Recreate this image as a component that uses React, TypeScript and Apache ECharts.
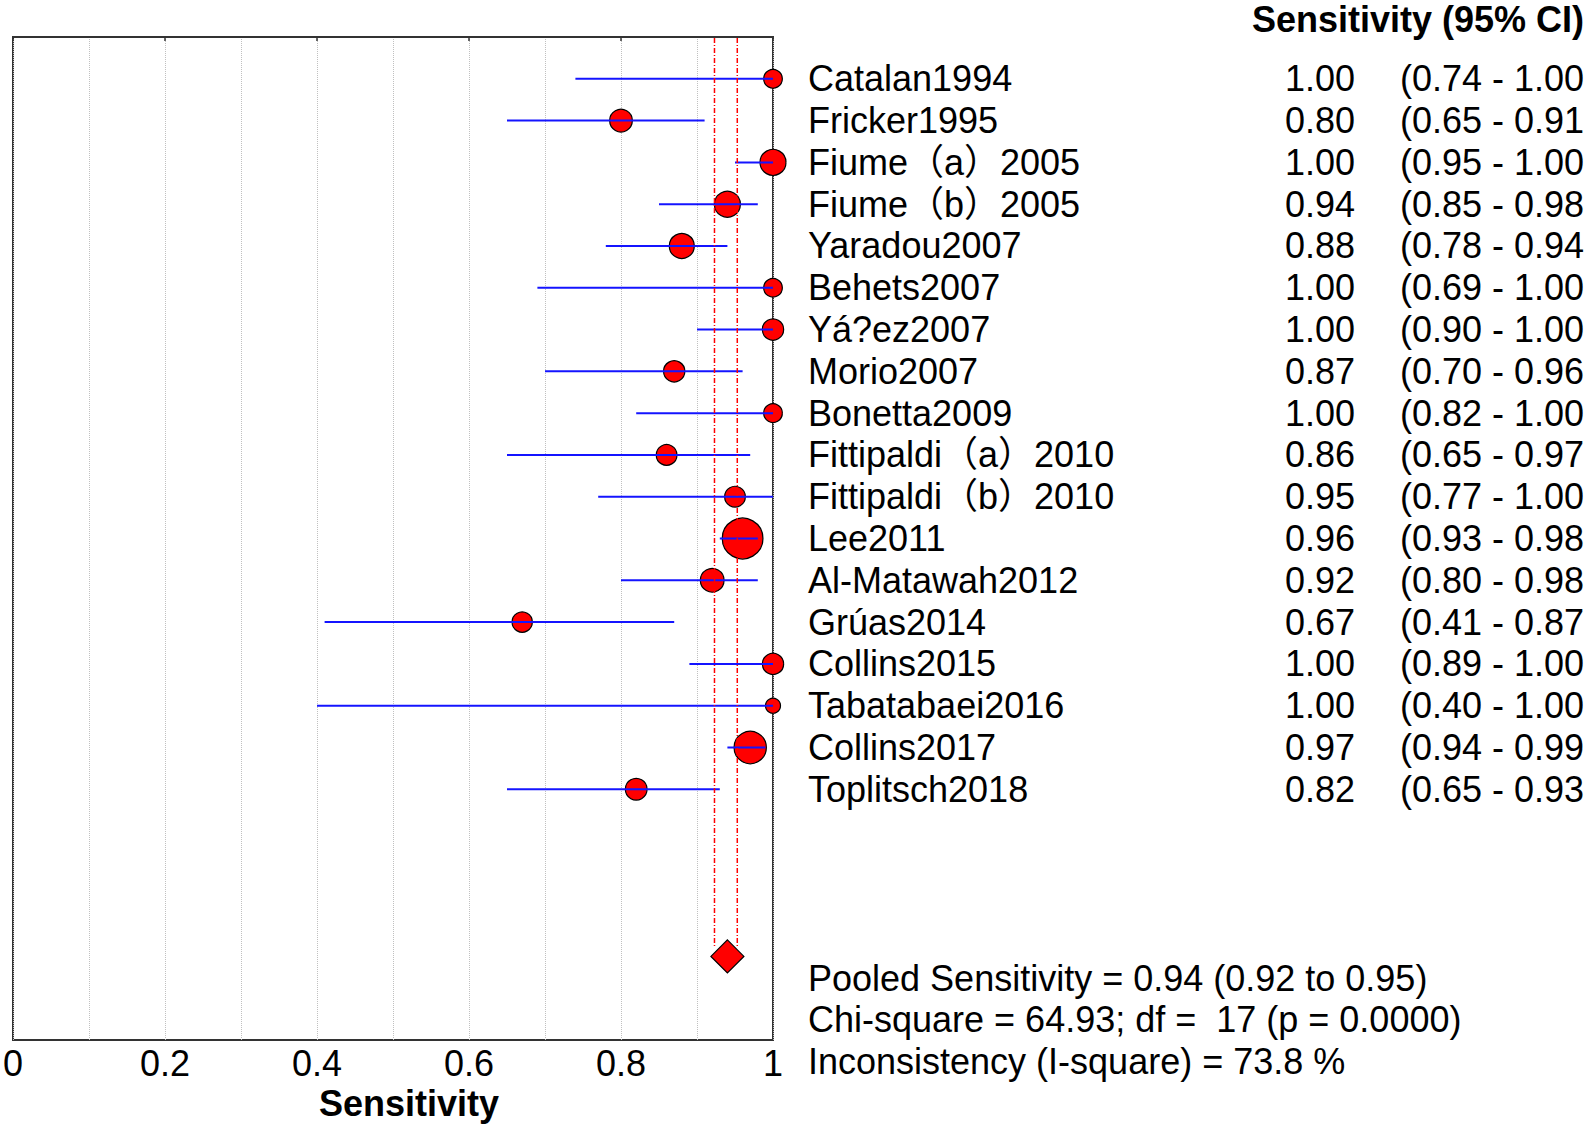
import React, { useEffect, useRef } from "react";
import * as echarts from "echarts";

const studies = [
  "Catalan1994", "Fricker1995", "Fiume（a）2005", "Fiume（b）2005", "Yaradou2007",
  "Behets2007", "Yá?ez2007", "Morio2007", "Bonetta2009", "Fittipaldi（a）2010",
  "Fittipaldi（b）2010", "Lee2011", "Al-Matawah2012", "Grúas2014", "Collins2015",
  "Tabatabaei2016", "Collins2017", "Toplitsch2018",
];
const sens = [1.0, 0.8, 1.0, 0.94, 0.88, 1.0, 1.0, 0.87, 1.0, 0.86, 0.95, 0.96, 0.92, 0.67, 1.0, 1.0, 0.97, 0.82];
const ciLow = [0.74, 0.65, 0.95, 0.85, 0.78, 0.69, 0.9, 0.7, 0.82, 0.65, 0.77, 0.93, 0.8, 0.41, 0.89, 0.4, 0.94, 0.65];
const ciHigh = [1.0, 0.91, 1.0, 0.98, 0.94, 1.0, 1.0, 0.96, 1.0, 0.97, 1.0, 0.98, 0.98, 0.87, 1.0, 1.0, 0.99, 0.93];
// marker diameters (study weights)
const weights = [18.7, 22.7, 26, 26, 25, 18.7, 21.3, 21.3, 18.7, 20.7, 20.7, 40.7, 23.7, 20.3, 21.3, 15, 32.3, 21.7];

const pooled = 0.94;
const pooledLow = 0.923;
const pooledHigh = 0.953;
const pooledRow = 22;

const xTicks = [0, 0.2, 0.4, 0.6, 0.8, 1];

const statLines = [
  "Pooled Sensitivity = 0.94 (0.92 to 0.95)",
  "Chi-square = 64.93; df =  17 (p = 0.0000)",
  "Inconsistency (I-square) = 73.8 %",
];

const FONT = "'Liberation Sans', Arial, 'Noto Sans CJK SC', sans-serif";
const FS = 36;

export default function App() {
  const ref = useRef<HTMLDivElement>(null);

  useEffect(() => {
    if (!ref.current) return;
    const chart = echarts.init(ref.current, undefined, { renderer: "svg" });

    const rows = studies.map((_, i) => i + 1);

    const option: any = {
      animation: false,
      backgroundColor: "#ffffff",
      grid: {
        left: 12,
        right: 820,
        top: 37,
        bottom: 88,
        show: true,
        borderColor: "#333333",
        borderWidth: 2,
        backgroundColor: "transparent",
      },
      xAxis: {
        type: "value",
        min: 0,
        max: 1,
        interval: 0.2,
        axisLine: { show: true, lineStyle: { color: "#333333", width: 2 } },
        axisTick: { show: true, length: 4, lineStyle: { color: "#333333", width: 1.5 } },
        axisLabel: {
          color: "#000000",
          fontSize: FS,
          fontFamily: FONT,
          margin: 5,
          formatter: (v: number) => {
            const t = xTicks.find((k) => Math.abs(k - v) < 1e-6);
            if (t === undefined) return "";
            return t === 0 ? "0" : t === 1 ? "1" : t.toFixed(1);
          },
        },
        splitLine: { show: true, lineStyle: { color: "#c0c0c0", type: "dotted", width: 1 } },
        minorTick: { show: false, splitNumber: 2 },
        minorSplitLine: { show: true, lineStyle: { color: "#c0c0c0", type: "dotted", width: 1 } },
      },
      yAxis: {
        type: "value",
        inverse: true,
        min: 0,
        max: 24,
        show: false,
        splitLine: { show: false },
      },
      graphic: [
        {
          type: "text",
          x: 1584,
          y: 19,
          style: {
            text: "Sensitivity (95% CI)",
            fontSize: FS,
            fontWeight: "bold",
            fontFamily: FONT,
            fill: "#000000",
            align: "right",
            verticalAlign: "middle",
          },
        },
        {
          type: "text",
          x: 409,
          y: 1103,
          style: {
            text: "Sensitivity",
            fontSize: FS,
            fontWeight: "bold",
            fontFamily: FONT,
            fill: "#000000",
            align: "center",
            verticalAlign: "middle",
          },
        },
        ...statLines.map((s, i) => ({
          type: "text",
          x: 808,
          y: 978 + i * 41.78,
          style: {
            text: s,
            fontSize: FS,
            fontFamily: FONT,
            fill: "#000000",
            align: "left",
            verticalAlign: "middle",
          },
        })),
      ],
      series: [
        {
          type: "scatter",
          z: 2,
          symbol: "circle",
          symbolSize: (_v: any, p: any) => weights[p.dataIndex],
          itemStyle: { color: "#ff0000", borderColor: "#000000", borderWidth: 1.2, opacity: 1 },
          data: rows.map((r, i) => [sens[i], r]),
          silent: true,
        },
        {
          type: "custom",
          z: 3,
          clip: false,
          silent: true,
          encode: { x: [0, 1], y: 2 },
          data: rows.map((r, i) => [ciLow[i], ciHigh[i], r]),
          renderItem: (_p: any, api: any) => {
            const a = api.coord([api.value(0), api.value(2)]);
            const b = api.coord([api.value(1), api.value(2)]);
            return {
              type: "line",
              shape: { x1: a[0], y1: a[1], x2: b[0], y2: b[1] },
              style: { stroke: "#1414ff", lineWidth: 2 },
            };
          },
        },
        {
          type: "custom",
          z: 4,
          clip: false,
          silent: true,
          encode: { x: 0, y: [1, 2] },
          data: [
            [pooledLow, 0, pooledRow - 0.2],
            [pooledHigh, 0, pooledRow - 0.2],
          ],
          renderItem: (_p: any, api: any) => {
            const a = api.coord([api.value(0), api.value(1)]);
            const b = api.coord([api.value(0), api.value(2)]);
            return {
              type: "line",
              shape: { x1: a[0], y1: a[1] + 1, x2: b[0], y2: b[1] },
              style: { stroke: "#ff0000", lineWidth: 1.5, lineDash: [5, 2, 1, 2] },
            };
          },
        },
        {
          type: "scatter",
          z: 5,
          symbol: "diamond",
          symbolSize: [33, 33],
          itemStyle: { color: "#ff0000", borderColor: "#000000", borderWidth: 1.2, opacity: 1 },
          data: [[pooled, pooledRow]],
          silent: true,
        },
        {
          type: "custom",
          z: 6,
          clip: false,
          silent: true,
          encode: { x: 0, y: 1 },
          data: rows.map((r, i) => [1, r, i]),
          renderItem: (_p: any, api: any) => {
            const i = api.value(2);
            const c = api.coord([api.value(0), api.value(1)]);
            const base = {
              fontSize: FS,
              fontFamily: FONT,
              fill: "#000000",
              verticalAlign: "middle",
            };
            return {
              type: "group",
              children: [
                {
                  type: "text",
                  x: c[0] + 35,
                  y: c[1],
                  style: { ...base, text: studies[i], align: "left" },
                },
                {
                  type: "text",
                  x: c[0] + 582,
                  y: c[1],
                  style: { ...base, text: sens[i].toFixed(2), align: "right" },
                },
                {
                  type: "text",
                  x: c[0] + 627,
                  y: c[1],
                  style: {
                    ...base,
                    text: "(" + ciLow[i].toFixed(2) + " - " + ciHigh[i].toFixed(2),
                    align: "left",
                  },
                },
              ],
            };
          },
        },
      ],
    };

    chart.setOption(option);
    return () => chart.dispose();
  }, []);

  return (
    <div
      ref={ref}
      style={{ position: "absolute", left: 0, top: 0, width: 1593, height: 1128, background: "#fff" }}
    />
  );
}
